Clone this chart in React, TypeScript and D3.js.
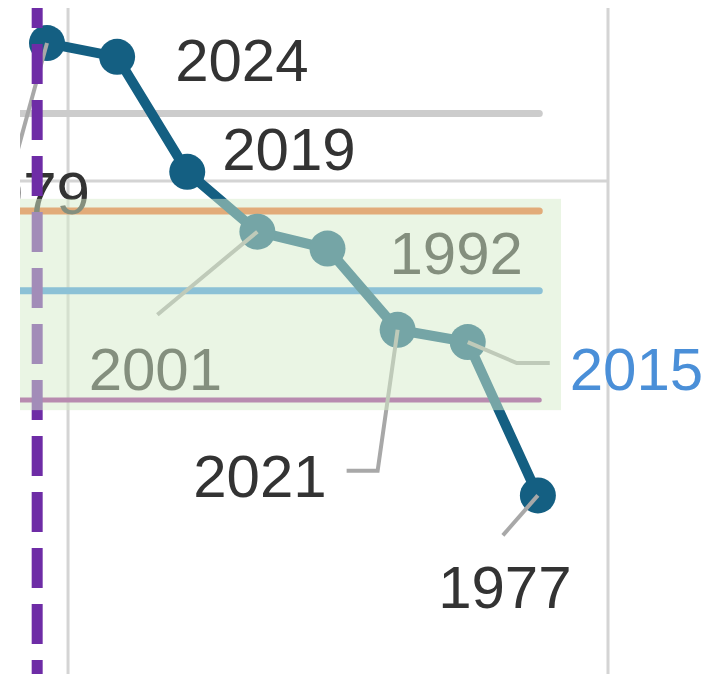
import React from 'react';
import * as d3 from 'd3';

// ranked points, left to right
const years = ['1979', '2024', '2019', '2001', '1992', '2021', '2015', '1977'];
const values = [59.9, 59.45, 55.7, 53.75, 53.2, 50.55, 50.15, 45.15];

// horizontal reference lines
const refNames = ['grey', 'orange', 'blue', 'mauve'];
const refValues = [57.6, 54.42, 51.82, 48.26];

// grid, shaded band and the dashed marker
const gridXValues = [0.3, 8];
const gridYValues = [55.4];
const bandRange = [47.93, 54.82];
const markerRank = -0.14;

const highlightYear = '2015';

const refStyle: Record<string, { color: string; width: number }> = {
    grey: { color: '#cccccc', width: 7 },
    orange: { color: '#ee6b28', width: 7 },
    blue: { color: '#4296e2', width: 7 },
    mauve: { color: '#9a2a94', width: 5 },
};

// label placement relative to its point: text offset, anchor, leader path
const labelLayout = [
    { dx: 43, dy: 171, anchor: 'end', leader: [[0, 0], [-35, 128]] },
    { dx: 58, dy: 24, anchor: 'start', leader: null },
    { dx: 35, dy: -2, anchor: 'start', leader: null },
    { dx: -102, dy: 158, anchor: 'middle', leader: [[0, 0], [-100, 83]] },
    { dx: 62, dy: 25, anchor: 'start', leader: null },
    { dx: -71, dy: 167, anchor: 'end', leader: [[0, 0], [-20, 141], [-51, 141]] },
    { dx: 102, dy: 48, anchor: 'start', leader: [[0, 0], [49, 21], [82, 21]] },
    { dx: -33, dy: 113, anchor: 'middle', leader: [[0, 0], [-35, 40]] },
];

const width = 713;
const height = 676;
const clip = { left: 20, top: 8, bottom: 674 };

const App = () => {
    const x = d3.scaleLinear().domain([0, 8]).range([47, 608]);
    const y = d3.scaleLinear().domain([45, 60]).range([500, 40]);

    const points = years.map((yr, i) => ({ year: yr, px: x(i), py: y(values[i]) }));

    const line = d3
        .line<{ px: number; py: number }>()
        .x(d => d.px)
        .y(d => d.py);

    const leaderLine = d3.line();

    const lineColor = '#145f82';
    const font = '"Liberation Sans", Arial, sans-serif';

    return (
        <svg
            width={width}
            height={height}
            style={{ position: 'absolute', left: 0, top: 0, background: '#fff' }}
        >
            <defs>
                <clipPath id="plot-clip">
                    <rect
                        x={clip.left}
                        y={clip.top}
                        width={width - clip.left}
                        height={clip.bottom - clip.top}
                    />
                </clipPath>
            </defs>
            <g clipPath="url(#plot-clip)">
                {gridXValues.map(v => (
                    <line
                        key={'gx' + v}
                        x1={x(v)}
                        x2={x(v)}
                        y1={0}
                        y2={height}
                        stroke="#d4d4d4"
                        strokeWidth={3}
                    />
                ))}
                {gridYValues.map(v => (
                    <line
                        key={'gy' + v}
                        x1={0}
                        x2={x(gridXValues[1])}
                        y1={y(v)}
                        y2={y(v)}
                        stroke="#d4d4d4"
                        strokeWidth={3}
                    />
                ))}

                {refValues.map((v, i) => (
                    <line
                        key={refNames[i]}
                        x1={x(-1)}
                        x2={x(7.02)}
                        y1={y(v)}
                        y2={y(v)}
                        stroke={refStyle[refNames[i]].color}
                        strokeWidth={refStyle[refNames[i]].width}
                        strokeLinecap="round"
                    />
                ))}

                <path d={line(points) || ''} fill="none" stroke={lineColor} strokeWidth={10} />
                {points.map(p => (
                    <circle key={'c' + p.year} cx={p.px} cy={p.py} r={18} fill={lineColor} />
                ))}

                {points.map((p, i) => {
                    const lay = labelLayout[i];
                    if (!lay.leader) return null;
                    const pts = lay.leader.map(([a, b]) => [p.px + a, p.py + b] as [number, number]);
                    return (
                        <path
                            key={'l' + p.year}
                            d={leaderLine(pts) || ''}
                            fill="none"
                            stroke="#a8a8a8"
                            strokeWidth={4}
                        />
                    );
                })}

                {points.map((p, i) => {
                    const lay = labelLayout[i];
                    return (
                        <text
                            key={'t' + p.year}
                            x={p.px + lay.dx}
                            y={p.py + lay.dy}
                            textAnchor={lay.anchor}
                            fontFamily={font}
                            fontSize={60}
                            fill={p.year === highlightYear ? '#4a8fd8' : '#333333'}
                        >
                            {p.year}
                        </text>
                    );
                })}

                <line
                    x1={x(markerRank)}
                    x2={x(markerRank)}
                    y1={-12}
                    y2={height + 10}
                    stroke="#6e2ca6"
                    strokeWidth={11}
                    strokeDasharray="40 16"
                />

                <rect
                    x={0}
                    y={y(bandRange[1])}
                    width={x(7.33)}
                    height={y(bandRange[0]) - y(bandRange[1])}
                    fill="#d6ecca"
                    fillOpacity={0.5}
                />
            </g>
        </svg>
    );
};

export default App;
